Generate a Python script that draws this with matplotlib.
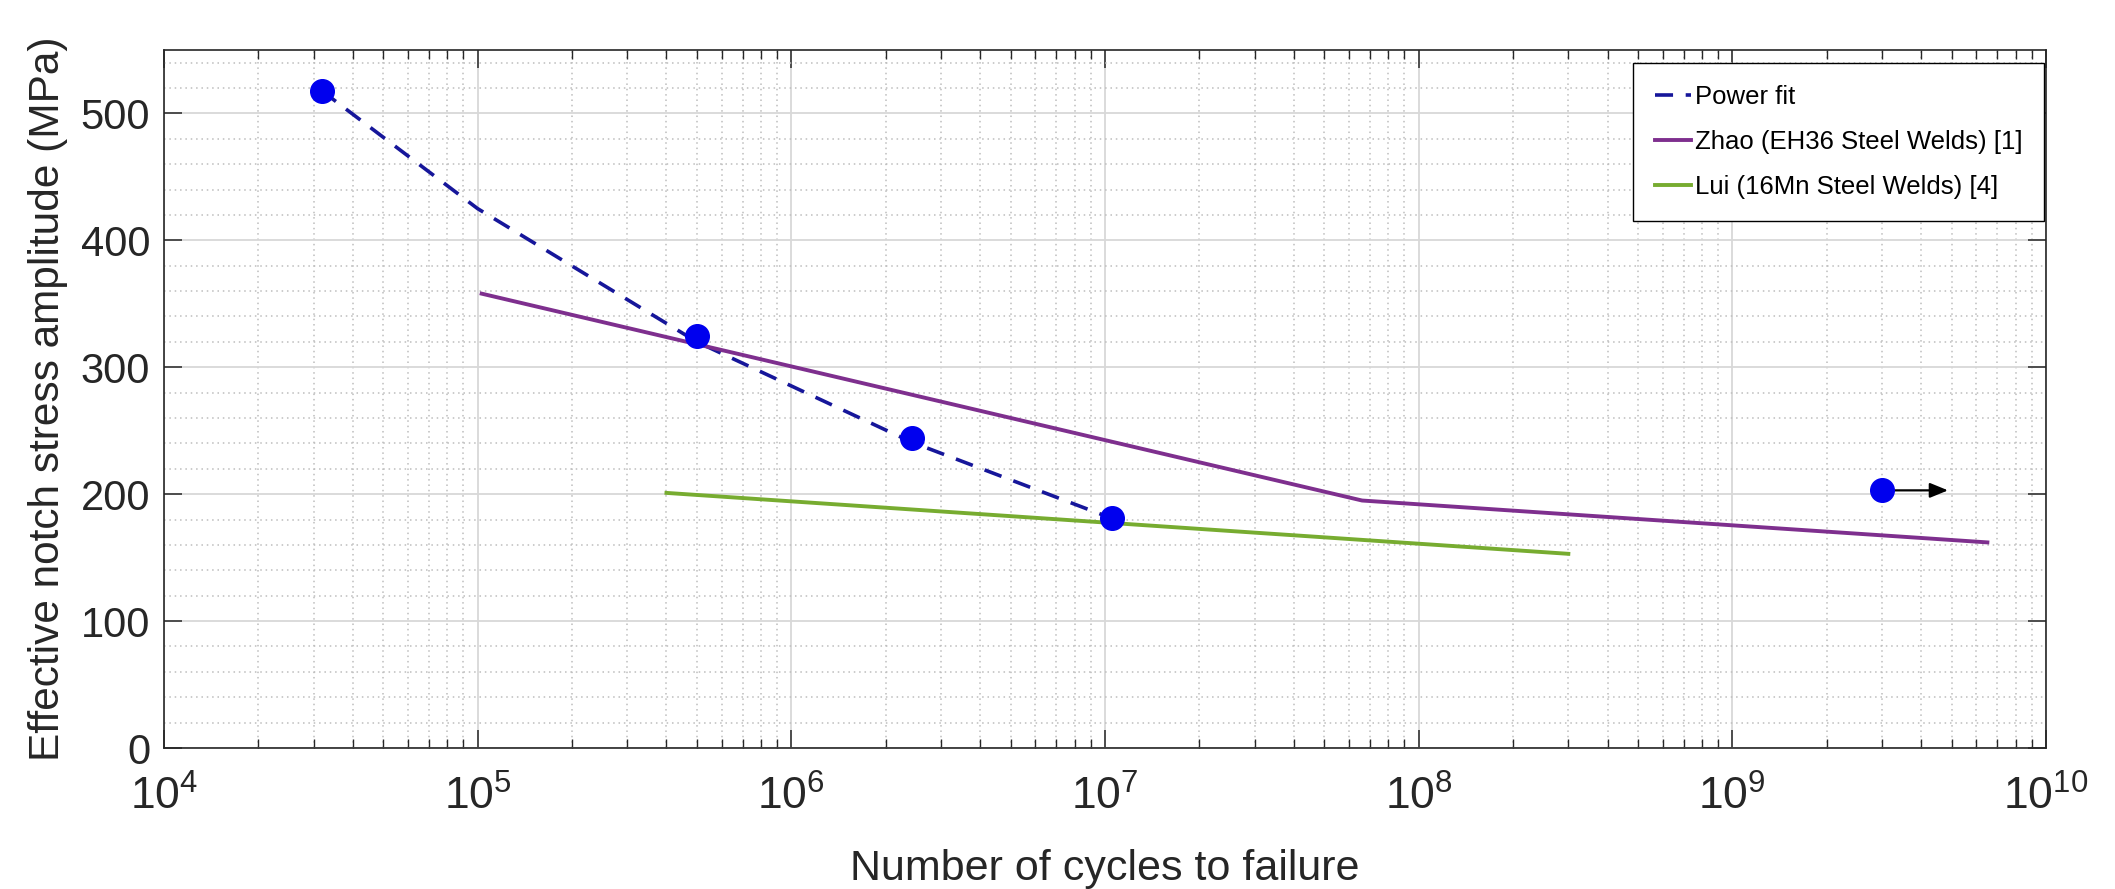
import matplotlib.pyplot as plt
from matplotlib.ticker import LogLocator, MultipleLocator, NullFormatter, FixedLocator

plt.rcParams['font.family'] = ['Liberation Sans', 'DejaVu Sans']
plt.rcParams['mathtext.fontset'] = 'custom'
plt.rcParams['mathtext.rm'] = 'Liberation Sans'
plt.rcParams['mathtext.default'] = 'regular'

# puntos de ensayo (ciclos, amplitud de tension en MPa)
ciclos = [3.18e4, 5.0e5, 2.42e6, 1.05e7, 3.0e9]
tension = [518, 325, 244, 181, 203]

# curva de ajuste potencial
ajuste_ciclos = [3.18e4, 1.0e5, 5.0e5, 2.42e6, 1.05e7]
ajuste_tension = [518, 425, 320, 241, 181]

# curvas de referencia
zhao_ciclos = [1.03e5, 6.6e7, 6.5e9]
zhao_tension = [358, 195, 162]
lui_ciclos = [4.0e5, 3.0e8]
lui_tension = [201, 153]

# ensayo sin rotura (runout): flecha hasta este numero de ciclos
runout_ciclos = 3.0e9
runout_tension = 203
runout_fin = 4.87e9

etiquetas = ["Power fit", "Zhao (EH36 Steel Welds) [1]", "Lui (16Mn Steel Welds) [4]"]

fig = plt.figure(figsize=(21.15, 8.89), dpi=100)
ax = fig.add_axes([0.0775, 0.1586, 0.8899, 0.7852])

# lineas
ax.plot(ajuste_ciclos, ajuste_tension, color="#16169a", lw=2.6, ls=(0, (5, 3.5)),
        label=etiquetas[0], zorder=3)
ax.plot(zhao_ciclos, zhao_tension, color="#7E2F8E", lw=2.8, label=etiquetas[1], zorder=3)
ax.plot(lui_ciclos, lui_tension, color="#77AC30", lw=2.8, label=etiquetas[2], zorder=3)

# flecha del runout
ax.annotate("", xy=(runout_fin, runout_tension), xytext=(runout_ciclos, runout_tension),
            arrowprops=dict(arrowstyle="-|>,head_length=1.1,head_width=0.45",
                            color="black", lw=1.6, shrinkA=0, shrinkB=0), zorder=4)

# puntos
ax.plot(ciclos, tension, "o", color="#0000ee", markersize=17, zorder=5)

ax.set_xscale("log")
ax.set_xlim(1e4, 1e10)
ax.set_ylim(0, 550)

ax.xaxis.set_major_locator(LogLocator(base=10, numticks=20))
ax.xaxis.set_minor_locator(LogLocator(base=10, subs=range(2, 10), numticks=100))
ax.xaxis.set_minor_formatter(NullFormatter())
ax.yaxis.set_major_locator(FixedLocator([0, 100, 200, 300, 400, 500]))
ax.yaxis.set_minor_locator(MultipleLocator(20))

ax.grid(which="major", color="#d8d8d8", lw=1.3, ls="-")
ax.grid(which="minor", color="#bdbdbd", lw=1.1, ls=(0, (1, 2.5)))
ax.set_axisbelow(True)

ax.tick_params(which="both", direction="in", top=True, right=True, colors="#262626",
               labelcolor="#262626", labelsize=30)
ax.tick_params(axis="x", which="major", length=13, width=1.1, pad=20, labelsize=32)
ax.tick_params(axis="x", which="minor", length=6.5, width=1.0)
ax.tick_params(axis="y", which="major", length=13, width=1.1, pad=10)
ax.tick_params(axis="y", which="minor", length=0)

for s in ax.spines.values():
    s.set_color("#262626")
    s.set_linewidth(1.2)

ax.set_xlabel("Number of cycles to failure", fontsize=31, color="#262626", labelpad=22)
ax.set_ylabel("Effective notch stress amplitude (MPa)", fontsize=30.5, color="#262626",
              labelpad=9)

ley = ax.legend(loc="upper right", bbox_to_anchor=(0.999, 0.981), borderaxespad=0,
                fontsize=18.5, frameon=True, fancybox=False, edgecolor="black",
                handlelength=1.4, handletextpad=0.15, borderpad=0.85,
                labelspacing=0.82)
ley.get_frame().set_linewidth(1.0)
ley.get_frame().set_alpha(1)

plt.savefig("out.png", dpi=100)
